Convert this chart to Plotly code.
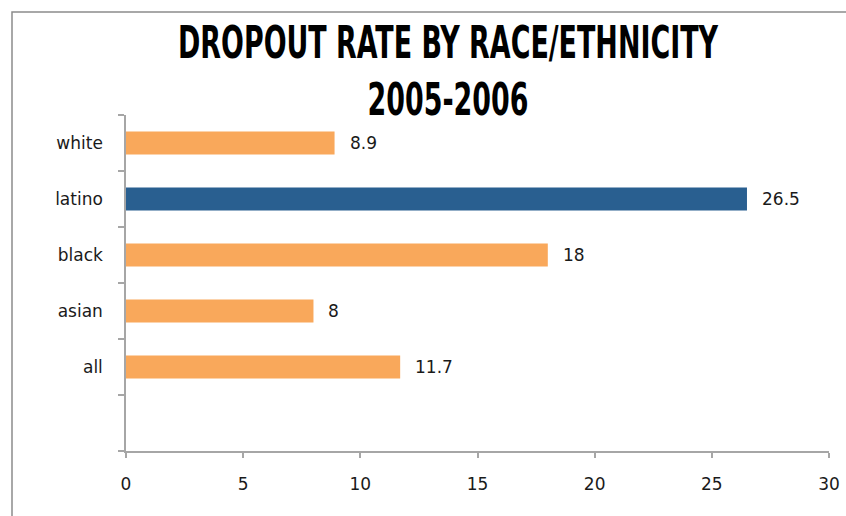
import plotly.graph_objects as go

# Dropout rate (%) by race/ethnicity, 2005-2006
groups = ["all", "asian", "black", "latino", "white"]
rates = [11.7, 8, 18, 26.5, 8.9]
highlight = "latino"
x_ticks = [0, 5, 10, 15, 20, 25, 30]

ORANGE = "#F9A85B"
BLUE = "#295F90"
GREY = "#A6A6A6"
TEXT = "#1a1a1a"
LABEL_FONT = "DejaVu Sans, Verdana, sans-serif"

colors = [BLUE if g == highlight else ORANGE for g in groups]

fig = go.Figure(
    go.Bar(
        x=rates,
        y=groups,
        orientation="h",
        marker=dict(color=colors, line=dict(width=0)),
        width=0.41,
        hoverinfo="x+y",
    )
)

# value labels just right of each bar end
for g, v in zip(groups, rates):
    fig.add_annotation(
        x=v, y=g, text=f"{v:g}", showarrow=False,
        xanchor="left", yanchor="middle", xshift=13,
        font=dict(family=LABEL_FONT, size=17, color=TEXT),
    )

W, H = 846, 516
ml, mr, mt, mb = 126, 17, 115, 65
pw, ph = W - ml - mr, H - mt - mb

def px_x(x):
    return (x - ml) / pw

def px_y(y):
    return (H - mb - y) / ph

# outer chart frame
fig.add_shape(
    type="rect", xref="paper", yref="paper",
    x0=px_x(12), x1=px_x(W + 6), y0=px_y(H + 6), y1=px_y(12),
    line=dict(color="#8C8C8C", width=1.5), layer="above",
)

fig.update_layout(
    width=W, height=H, autosize=False,
    margin=dict(l=ml, r=mr, t=mt, b=mb, pad=0, autoexpand=False),
    paper_bgcolor="white", plot_bgcolor="white",
    showlegend=False,
    title=dict(
        text="<b>DROPOUT RATE BY RACE/ETHNICITY<br>2005-2006</b>",
        x=448 / W, xanchor="center", xref="container",
        y=1 - 58 / H, yanchor="top", yref="container",
        font=dict(family="DejaVu Sans Condensed, DejaVu Sans, sans-serif",
                  size=44, color="black"),
    ),
    xaxis=dict(
        range=[0, 30], tickvals=x_ticks, showgrid=False, zeroline=False,
        automargin=False,
        showline=True, linecolor=GREY, linewidth=1.5,
        ticks="outside", ticklen=5, tickcolor=GREY, tickwidth=1.5,
        ticklabelstandoff=12,
        tickfont=dict(family=LABEL_FONT, size=17, color=TEXT),
    ),
    yaxis=dict(
        type="category",
        categoryorder="array", categoryarray=[" "] + groups,
        range=[-0.5, len(groups) + 0.5],
        automargin=False,
        tickson="boundaries", showgrid=False, zeroline=False,
        showline=True, linecolor=GREY, linewidth=1.5,
        ticks="outside", ticklen=6, tickcolor=GREY, tickwidth=1.5,
        ticklabelstandoff=18,
        tickfont=dict(family=LABEL_FONT, size=17, color=TEXT),
    ),
)

# narrow the heading horizontally into a condensed display face
condense_title = """
var gd = document.getElementById('{plot_id}');
var t = gd.querySelector('.gtitle');
if (t) {
  var cx = parseFloat(t.getAttribute('x'));
  t.setAttribute('transform',
    'translate(' + cx + ',0) scale(0.68,1) translate(' + (-cx) + ',0)');
}
"""

fig.write_html("out.html", post_script=condense_title,
               config={"responsive": False})
